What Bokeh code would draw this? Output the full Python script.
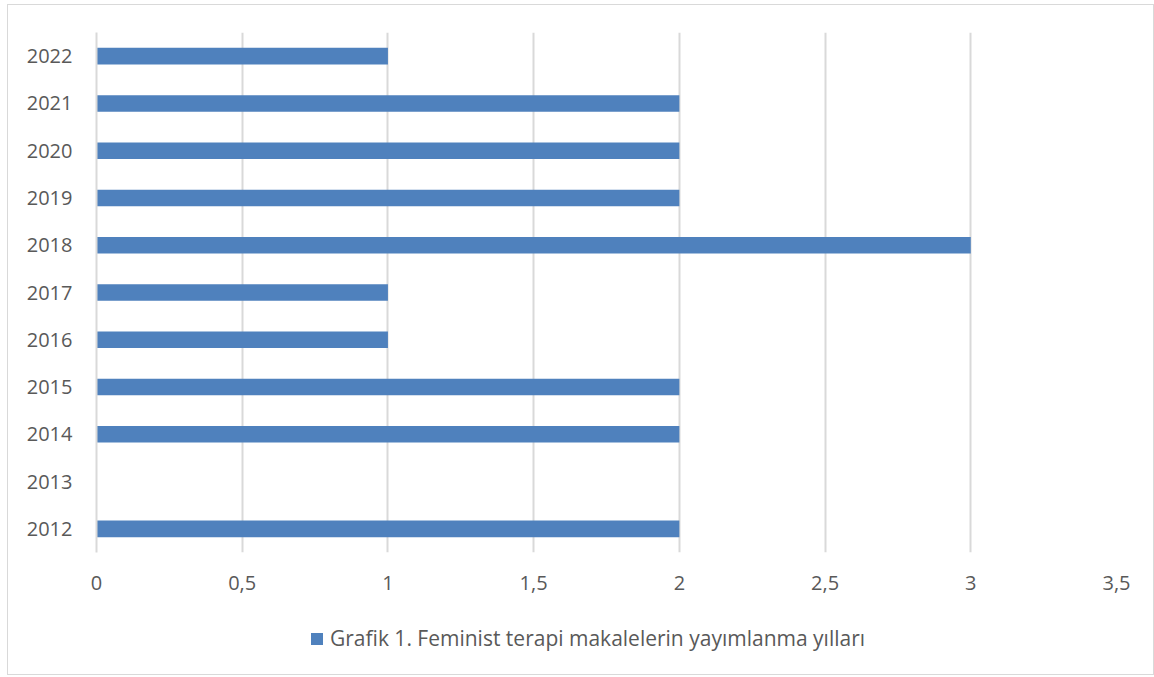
from bokeh.plotting import figure
from bokeh.layouts import column
from bokeh.models import ColumnDataSource, FactorRange, Range1d, FixedTicker, CustomJSTickFormatter, Legend, LegendItem
from bokeh.embed import file_html
from bokeh.resources import INLINE

years = ["2012", "2013", "2014", "2015", "2016", "2017", "2018", "2019", "2020", "2021", "2022"]
counts = [2, 0, 2, 2, 1, 1, 3, 2, 2, 2, 1]
x_ticks = [0, 0.5, 1, 1.5, 2, 2.5, 3, 3.5]
series_name = "Grafik 1. Feminist terapi makalelerin yayımlanma yılları"

FONT = "Open Sans"
TXT = "#595959"
GRID = "#d9d9d9"
BAR = "#4f81bd"

src = ColumnDataSource(dict(year=years, count=counts))

p = figure(width=1145, height=602, y_range=FactorRange(*years, range_padding=0),
           x_range=Range1d(0, 3.5), output_backend="svg", toolbar_location=None,
           min_border_left=88, min_border_right=37, min_border_top=27, min_border_bottom=55)
p.outline_line_color = None
p.background_fill_color = "white"

r = p.hbar(y="year", right="count", left=0, height=0.35, source=src,
           fill_color=BAR, line_color=None)

p.xaxis.ticker = FixedTicker(ticks=x_ticks)
p.xaxis.formatter = CustomJSTickFormatter(code="return tick.toString().replace('.', ',');")
p.xaxis.axis_line_color = None
p.xaxis.major_tick_line_color = None
p.xaxis.minor_tick_line_color = None
p.xaxis.major_label_standoff = 17
p.xaxis.major_label_text_font = FONT
p.xaxis.major_label_text_font_size = "20px"
p.xaxis.major_label_text_color = TXT

p.yaxis.axis_line_color = GRID
p.yaxis.axis_line_width = 2
p.yaxis.major_tick_line_color = None
p.yaxis.minor_tick_line_color = None
p.yaxis.major_label_standoff = 18
p.yaxis.major_label_text_font = FONT
p.yaxis.major_label_text_font_size = "20px"
p.yaxis.major_label_text_color = TXT

p.xgrid.grid_line_color = GRID
p.xgrid.grid_line_width = 2
p.ygrid.grid_line_color = None

# legend strip below the chart
lf = figure(width=1145, height=67, x_range=Range1d(0, 3.5), y_range=FactorRange(*years),
            output_backend="svg", toolbar_location=None,
            x_axis_location=None, y_axis_location=None, min_border=0)
lf.outline_line_color = None
lf.xgrid.grid_line_color = None
lf.ygrid.grid_line_color = None
lr = lf.hbar(y="year", right="count", left=0, height=0.35, source=src,
             fill_color=BAR, line_color=None, visible=False)

legend = Legend(items=[LegendItem(label=series_name, renderers=[lr])],
                location=(213, 22), orientation="horizontal",
                border_line_color=None, background_fill_alpha=0,
                inactive_fill_alpha=0,
                glyph_width=15, glyph_height=15, label_standoff=6,
                label_text_font=FONT, label_text_font_size="21px",
                label_text_color=TXT, padding=0, margin=0)
lf.add_layout(legend, "center")

layout = column(p, lf, spacing=0)
layout.styles = {"border": "1px solid #d9d9d9", "margin": "4px 0 0 7px"}

open("out.html", "w").write(file_html(layout, INLINE))
